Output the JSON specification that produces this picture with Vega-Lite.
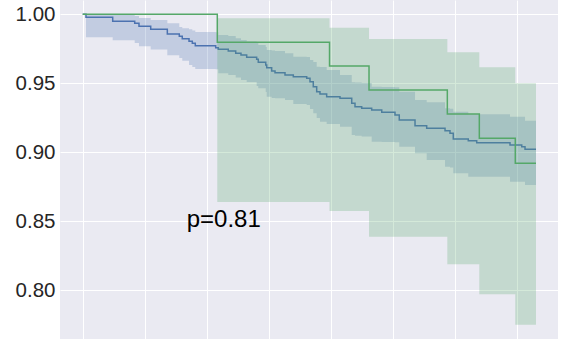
{
  "$schema": "https://vega.github.io/schema/vega-lite/v6.json",
  "width": 498,
  "height": 339,
  "autosize": {"type": "none"},
  "padding": {"left": 60, "top": 0, "right": 5, "bottom": 0},
  "background": "white",
  "config": {
    "view": {"fill": "#EAEAF2", "stroke": null},
    "axis": {"gridColor": "white", "gridWidth": 1, "domain": false, "ticks": false, "labelFont": "Liberation Sans", "labelColor": "#262626"}
  },
  "datasets": {
    "blue": [
      {"t": 0, "s": 1, "lo": 1, "hi": 1},
      {"t": 0.053, "s": 0.99782, "lo": 0.98333, "hi": 0.99971},
      {"t": 0.484, "s": 0.99493, "lo": 0.98116, "hi": 0.99949},
      {"t": 0.839, "s": 0.99348, "lo": 0.9792, "hi": 0.99877},
      {"t": 0.908, "s": 0.9913, "lo": 0.97681, "hi": 0.99732},
      {"t": 1.097, "s": 0.98913, "lo": 0.97449, "hi": 0.99587},
      {"t": 1.365, "s": 0.98572, "lo": 0.97029, "hi": 0.99348},
      {"t": 1.558, "s": 0.98406, "lo": 0.96833, "hi": 0.9908},
      {"t": 1.606, "s": 0.98232, "lo": 0.96637, "hi": 0.98985},
      {"t": 1.715, "s": 0.98043, "lo": 0.96326, "hi": 0.98913},
      {"t": 1.768, "s": 0.97898, "lo": 0.96181, "hi": 0.98826},
      {"t": 1.816, "s": 0.97724, "lo": 0.96036, "hi": 0.98717},
      {"t": 2.145, "s": 0.9758, "lo": 0.96014, "hi": 0.98695},
      {"t": 2.187, "s": 0.97464, "lo": 0.95725, "hi": 0.985},
      {"t": 2.348, "s": 0.9734, "lo": 0.95601, "hi": 0.98427},
      {"t": 2.468, "s": 0.97174, "lo": 0.9542, "hi": 0.98261},
      {"t": 2.553, "s": 0.9705, "lo": 0.95239, "hi": 0.98138},
      {"t": 2.645, "s": 0.96884, "lo": 0.95094, "hi": 0.98029},
      {"t": 2.806, "s": 0.96739, "lo": 0.94804, "hi": 0.9792},
      {"t": 2.832, "s": 0.96522, "lo": 0.94637, "hi": 0.97775},
      {"t": 2.952, "s": 0.96326, "lo": 0.94369, "hi": 0.9763},
      {"t": 2.968, "s": 0.9613, "lo": 0.94028, "hi": 0.97413},
      {"t": 3.048, "s": 0.95891, "lo": 0.93934, "hi": 0.97377},
      {"t": 3.102, "s": 0.95768, "lo": 0.93912, "hi": 0.9734},
      {"t": 3.263, "s": 0.95601, "lo": 0.93789, "hi": 0.97174},
      {"t": 3.397, "s": 0.95478, "lo": 0.935, "hi": 0.96927},
      {"t": 3.613, "s": 0.95362, "lo": 0.93427, "hi": 0.969},
      {"t": 3.666, "s": 0.95116, "lo": 0.93138, "hi": 0.96688},
      {"t": 3.719, "s": 0.94753, "lo": 0.92826, "hi": 0.96543},
      {"t": 3.774, "s": 0.9439, "lo": 0.92485, "hi": 0.96203},
      {"t": 3.827, "s": 0.94224, "lo": 0.92217, "hi": 0.96181},
      {"t": 3.935, "s": 0.94028, "lo": 0.92051, "hi": 0.95964},
      {"t": 4.15, "s": 0.93912, "lo": 0.91855, "hi": 0.95601},
      {"t": 4.339, "s": 0.9355, "lo": 0.91253, "hi": 0.95072},
      {"t": 4.392, "s": 0.93304, "lo": 0.912, "hi": 0.9505},
      {"t": 4.5, "s": 0.93188, "lo": 0.9115, "hi": 0.9503},
      {"t": 4.661, "s": 0.93065, "lo": 0.90768, "hi": 0.94753},
      {"t": 4.823, "s": 0.92898, "lo": 0.9074, "hi": 0.9474},
      {"t": 5.037, "s": 0.92703, "lo": 0.9072, "hi": 0.9472},
      {"t": 5.106, "s": 0.9234, "lo": 0.90406, "hi": 0.9439},
      {"t": 5.36, "s": 0.91927, "lo": 0.89927, "hi": 0.93789},
      {"t": 5.548, "s": 0.91739, "lo": 0.89442, "hi": 0.93623},
      {"t": 5.844, "s": 0.91565, "lo": 0.88956, "hi": 0.93188},
      {"t": 5.924, "s": 0.91376, "lo": 0.889, "hi": 0.9315},
      {"t": 5.977, "s": 0.90963, "lo": 0.88478, "hi": 0.92942},
      {"t": 6.219, "s": 0.9084, "lo": 0.88232, "hi": 0.92753},
      {"t": 6.355, "s": 0.90695, "lo": 0.88232, "hi": 0.92753},
      {"t": 6.892, "s": 0.90529, "lo": 0.8787, "hi": 0.9258},
      {"t": 7.081, "s": 0.90406, "lo": 0.8787, "hi": 0.9258},
      {"t": 7.134, "s": 0.90217, "lo": 0.8763, "hi": 0.9229},
      {"t": 7.311, "s": 0.90217, "lo": 0.8763, "hi": 0.9229}
    ],
    "green": [
      {"t": 0, "s": 1, "lo": 1, "hi": 1},
      {"t": 2.171, "s": 0.97971, "lo": 0.86398, "hi": 0.9971},
      {"t": 3.981, "s": 0.96253, "lo": 0.85746, "hi": 0.99029},
      {"t": 4.618, "s": 0.94514, "lo": 0.83884, "hi": 0.9821},
      {"t": 5.881, "s": 0.92775, "lo": 0.81884, "hi": 0.97246},
      {"t": 6.397, "s": 0.91014, "lo": 0.7971, "hi": 0.96159},
      {"t": 6.977, "s": 0.89203, "lo": 0.77507, "hi": 0.95},
      {"t": 7.311, "s": 0.89203, "lo": 0.77507, "hi": 0.95}
    ],
    "note": [{"t": 1.677, "s": 0.8461, "label": "p=0.81"}]
  },
  "encoding": {
    "x": {
      "field": "t", "type": "quantitative",
      "scale": {"domain": [-0.366, 7.666], "nice": false, "zero": false},
      "axis": {"values": [0, 1, 2, 3, 4, 5, 6, 7], "labels": false, "title": null, "grid": true}
    },
    "y": {
      "field": "s", "type": "quantitative",
      "scale": {"domain": [0.76471, 1.01036], "nice": false, "zero": false},
      "axis": {"values": [0.8, 0.85, 0.9, 0.95, 1.0], "format": ".2f", "title": null, "grid": true, "labelFontSize": 20.5, "labelPadding": 5}
    }
  },
  "layer": [
    {
      "data": {"name": "blue"},
      "mark": {"type": "line", "interpolate": "step-after", "color": "#4C72B0", "strokeWidth": 1.5, "clip": true}
    },
    {
      "data": {"name": "blue"},
      "mark": {"type": "area", "interpolate": "step-after", "color": "#4C72B0", "opacity": 0.25, "clip": true},
      "encoding": {"y": {"field": "lo", "type": "quantitative"}, "y2": {"field": "hi"}}
    },
    {
      "data": {"name": "green"},
      "mark": {"type": "line", "interpolate": "step-after", "color": "#55A868", "strokeWidth": 1.5, "clip": true}
    },
    {
      "data": {"name": "green"},
      "mark": {"type": "area", "interpolate": "step-after", "color": "#55A868", "opacity": 0.25, "clip": true},
      "encoding": {"y": {"field": "lo", "type": "quantitative"}, "y2": {"field": "hi"}}
    },
    {
      "data": {"name": "note"},
      "mark": {"type": "text", "align": "left", "baseline": "alphabetic", "font": "Liberation Sans", "fontSize": 24, "color": "#000000"},
      "encoding": {"text": {"field": "label"}}
    }
  ]
}
